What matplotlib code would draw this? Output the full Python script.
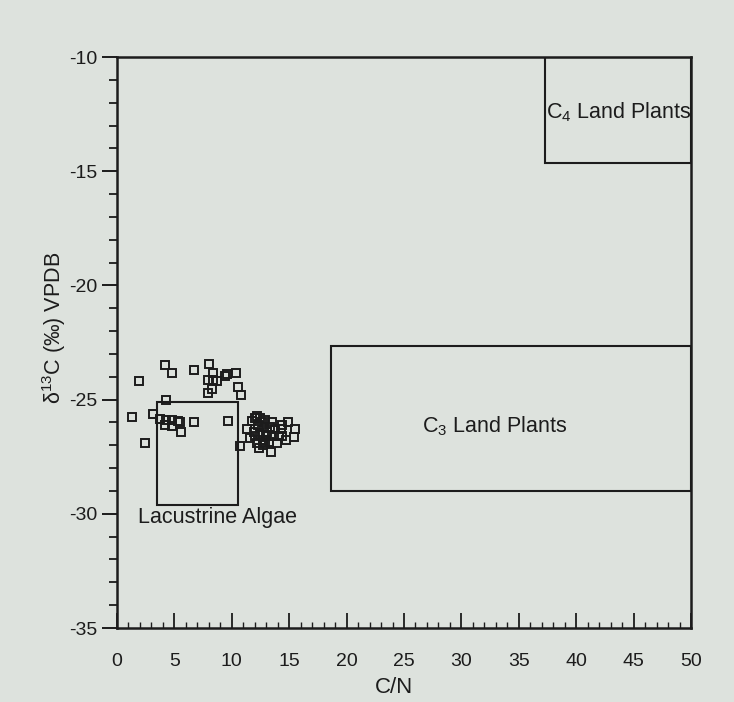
import matplotlib
matplotlib.use('Agg')
import matplotlib.pyplot as plt
from matplotlib.patches import Rectangle
from matplotlib.ticker import MultipleLocator

plt.rcParams['font.family'] = ['Liberation Sans', 'DejaVu Sans']
plt.rcParams['mathtext.default'] = 'regular'
plt.rcParams['axes.unicode_minus'] = False

# C/N and d13C of the samples
cn = [1.9, 4.2, 4.75, 6.7, 8.0, 8.4, 7.95, 8.4, 8.7, 9.4, 8.25, 7.95, 9.55, 10.4,
      10.55, 10.8, 4.25, 1.3, 3.15, 3.75, 4.25, 4.75, 5.35, 5.5, 4.15, 4.75, 5.55,
      6.7, 2.4, 9.7, 10.7,
      11.6, 12.4, 13.45, 13.9, 14.75, 15.4, 15.5, 14.9,
      12.0, 12.5, 12.9, 12.3, 12.8, 13.3, 13.8, 14.3, 11.9, 12.5, 13.0, 13.5, 14.1,
      12.2, 12.9, 11.3, 13.5, 14.4, 12.7, 14.4, 11.8,
      12.2, 12.6, 13.1, 12.0, 12.7, 13.2]
d13c = [-24.2, -23.5, -23.85, -23.7, -23.45, -23.85, -24.15, -24.15, -24.2, -23.95,
        -24.55, -24.7, -23.9, -23.85, -24.45, -24.8, -25.0, -25.75, -25.65, -25.85,
        -25.9, -25.9, -25.95, -26.0, -26.1, -26.15, -26.4, -26.0, -26.9, -25.95, -27.05,
        -26.7, -27.1, -27.3, -26.9, -26.75, -26.65, -26.3, -26.0,
        -25.8, -25.8, -25.9, -26.1, -26.2, -26.2, -26.3, -26.3, -26.4, -26.5, -26.6,
        -26.6, -26.6, -26.9, -26.9, -26.3, -26.0, -26.1, -27.0, -26.6, -25.95,
        -25.7, -26.0, -26.4, -26.6, -26.75, -26.85]

# source fields: (name, x0, x1, y0, y1, label x, label y)
fields = [
    ('C$_4$ Land Plants', 37.3, 50, -14.65, -10, 37.4, -12.4),
    ('C$_3$ Land Plants', 18.6, 50, -29.0, -22.65, 26.6, -26.15),
    ('Lacustrine Algae', 3.5, 10.5, -29.6, -25.1, 1.8, -30.15),
]

bg = '#dde2dd'
ink = '#1c1c1c'

fig = plt.figure(figsize=(7.34, 7.02), dpi=100, facecolor=bg)
ax = fig.add_axes([0.1594, 0.1054, 0.782, 0.8134], facecolor=bg)

for name, x0, x1, y0, y1, tx, ty in fields:
    ax.add_patch(Rectangle((x0, y0), x1 - x0, y1 - y0, fill=False,
                           edgecolor=ink, linewidth=1.5, zorder=2))
    ax.text(tx, ty, name, fontsize=15.5, color=ink, ha='left', va='center')

ax.plot(cn, d13c, linestyle='none', marker='s', markersize=6,
        markerfacecolor='none', markeredgecolor=ink, markeredgewidth=1.4, zorder=3)

ax.set_xlim(0, 50)
ax.set_ylim(-35, -10)
ax.xaxis.set_major_locator(MultipleLocator(5))
ax.xaxis.set_minor_locator(MultipleLocator(1))
ax.yaxis.set_major_locator(MultipleLocator(5))
ax.yaxis.set_minor_locator(MultipleLocator(1))

ax.tick_params(axis='x', which='major', direction='in', length=11, width=1.3,
               pad=18, labelsize=14, colors=ink)
ax.tick_params(axis='x', which='minor', direction='in', length=4.5, width=1.0, colors=ink)
ax.tick_params(axis='y', which='major', direction='out', length=11, width=1.4,
               pad=3, labelsize=14, colors=ink)
ax.tick_params(axis='y', which='minor', direction='out', length=5.5, width=1.3, colors=ink)

for s in ax.spines.values():
    s.set_linewidth(1.8)
    s.set_color(ink)

ax.set_xlabel('C/N', fontsize=16, color=ink)
ax.xaxis.set_label_coords(0.483, -0.086)
ax.set_ylabel('δ$^{13}$C (‰) VPDB', fontsize=15.5, color=ink)
ax.yaxis.set_label_coords(-0.085, 0.525)

fig.savefig('out.png', dpi=100, facecolor=bg)
